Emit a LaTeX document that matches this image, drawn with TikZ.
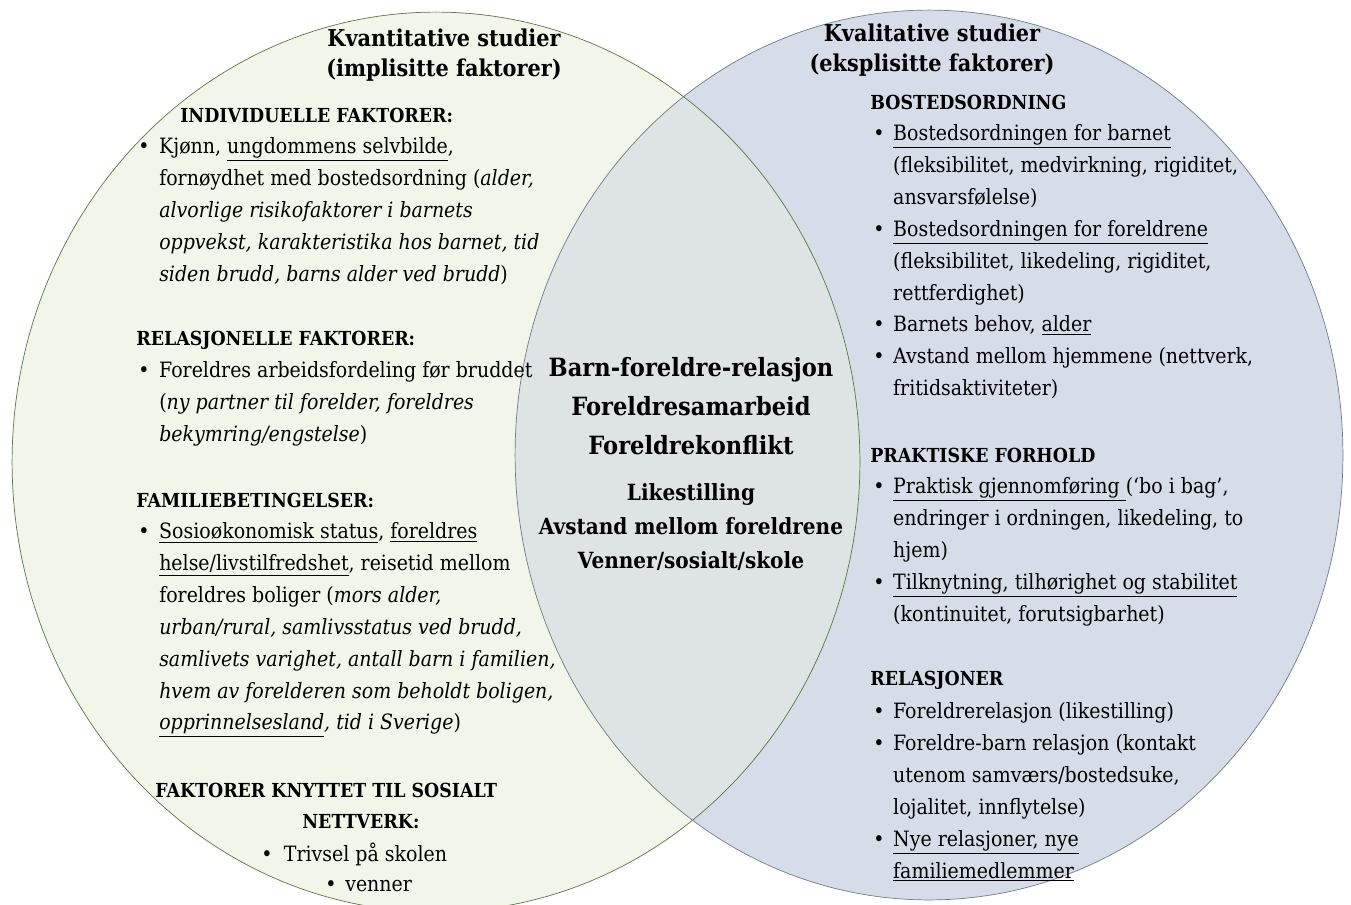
\documentclass[tikz,border=0pt]{standalone}
\usepackage{fontspec}
\setmainfont{DejaVu Serif Condensed}
\usetikzlibrary{positioning}
\definecolor{kvantfill}{RGB}{241,245,234}
\definecolor{kvantline}{RGB}{90,120,68}
\definecolor{kvalfill}{RGB}{214,220,232}
\definecolor{kvalline}{RGB}{112,124,142}
\definecolor{lensfill}{RGB}{222,228,228}
\tikzset{%
 body/.style={inner sep=0, font=\fontsize{12}{18.14}\selectfont},
 head/.style={inner sep=0, font=\fontsize{11}{18.14}\selectfont\bfseries},
 title/.style={inner sep=0, align=center, font=\fontsize{13.2}{17}\selectfont\bfseries},
 core/.style={inner sep=0, align=center, font=\fontsize{14.3}{22.1}\selectfont\bfseries},
 shared/.style={inner sep=0, align=center, font=\fontsize{12.7}{19.3}\selectfont\bfseries}
}
\newcommand\bl{\textbullet}

\begin{document}
\begin{tikzpicture}[x=0.02cm, y=-0.02cm]
 \useasboundingbox (0,0) rectangle (1351,904);
 \clip (0,0) rectangle (1351,904);
 % the two circles and their overlap
 \fill [kvantfill] (436,462) ellipse [x radius=8.48cm, y radius=9cm];
 \fill [kvalfill] (929,455) ellipse [x radius=8.28cm, y radius=8.9cm];
 \begin{scope}
  \clip (436,462) ellipse [x radius=8.48cm, y radius=9cm];
  \fill [lensfill] (929,455) ellipse [x radius=8.28cm, y radius=8.9cm];
 \end{scope}
 \draw [kvantline, thin] (436,462) ellipse [x radius=8.48cm, y radius=9cm];
 \draw [kvalline, thin] (929,455) ellipse [x radius=8.28cm, y radius=8.9cm];

 % left: kvantitative
 \node [title] (kvant) at (444,55) {Kvantitative studier\\(implisitte faktorer)};
 \node [head, anchor=west] (indiv) at (180,115) {INDIVIDUELLE FAKTORER:};
 \node [body, anchor=north west] (indivlist) at (138,131) {
  \begin{tabular}{@{}p{11.9pt}@{}l@{}}
   \bl & Kjønn, \underline{ungdommens selvbilde}, \\
       & fornøydhet med bostedsordning (\textit{alder,} \\
       & \textit{alvorlige risikofaktorer i barnets} \\
       & \textit{oppvekst, karakteristika hos barnet, tid} \\
       & \textit{siden brudd, barns alder ved brudd}) \\
  \end{tabular}
 };
 \node [head, anchor=west] (relas) at (136,340) {RELASJONELLE FAKTORER:};
 \node [body, anchor=north west] (relaslist) at (138,355) {
  \begin{tabular}{@{}p{11.9pt}@{}l@{}}
   \bl & Foreldres arbeidsfordeling før bruddet \\
       & (\textit{ny partner til forelder, foreldres} \\
       & \textit{bekymring/engstelse}) \\
  \end{tabular}
 };
 \node [head, anchor=west] (famil) at (136,500) {FAMILIEBETINGELSER:};
 \node [body, anchor=north west] (famillist) at (138,516) {
  \begin{tabular}{@{}p{11.9pt}@{}l@{}}
   \bl & \underline{Sosioøkonomisk status}, \underline{foreldres} \\
       & \underline{helse/livstilfredshet}, reisetid mellom \\
       & foreldres boliger (\textit{mors alder,} \\
       & \textit{urban/rural, samlivsstatus ved brudd,} \\
       & \textit{samlivets varighet, antall barn i familien,} \\
       & \textit{hvem av forelderen som beholdt boligen,} \\
       & \textit{\underline{opprinnelsesland}, tid i Sverige}) \\
  \end{tabular}
 };
 \node [head, anchor=west] (nett) at (155,790) {FAKTORER KNYTTET TIL SOSIALT};
 \node [head, anchor=west] (nettverk) at (302,822) {NETTVERK:};
 \node [body, anchor=west] (trivsel) at (261,854) {\bl\hspace{6.5pt}Trivsel på skolen};
 \node [body, anchor=west] (venner) at (325,886) {\bl\hspace{5pt}venner};

 % middle: overlap
 \node [core] (felles) at (691,406) {Barn-foreldre-relasjon\\Foreldresamarbeid\\Foreldrekonflikt};
 \node [shared, below=16pt of felles] (andre) {Likestilling\\Avstand mellom foreldrene\\Venner/sosialt/skole};

 % right: kvalitative
 \node [title] (kval) at (932,50) {Kvalitative studier\\(eksplisitte faktorer)};
 \node [head, anchor=west] (bosted) at (870,102) {BOSTEDSORDNING};
 \node [body, anchor=north west] (bostedlist) at (873,118) {
  \begin{tabular}{@{}p{11.3pt}@{}l@{}}
   \bl & \underline{Bostedsordningen for barnet} \\
       & (fleksibilitet, medvirkning, rigiditet, \\
       & ansvarsfølelse) \\
   \bl & \underline{Bostedsordningen for foreldrene} \\
       & (fleksibilitet, likedeling, rigiditet, \\
       & rettferdighet) \\
   \bl & Barnets behov, \underline{alder} \\
   \bl & Avstand mellom hjemmene (nettverk, \\
       & fritidsaktiviteter) \\
  \end{tabular}
 };
 \node [head, anchor=west] (praktisk) at (870,455) {PRAKTISKE FORHOLD};
 \node [body, anchor=north west] (praktisklist) at (873,471) {
  \begin{tabular}{@{}p{11.3pt}@{}l@{}}
   \bl & \underline{Praktisk gjennomføring }(‘bo i bag’, \\
       & endringer i ordningen, likedeling, to \\
       & hjem) \\
   \bl & \underline{Tilknytning, tilhørighet og stabilitet} \\
       & (kontinuitet, forutsigbarhet) \\
  \end{tabular}
 };
 \node [head, anchor=west] (relasj) at (870,680) {RELASJONER};
 \node [body, anchor=north west] (relasjlist) at (873,696) {
  \begin{tabular}{@{}p{11.3pt}@{}l@{}}
   \bl & Foreldrerelasjon (likestilling) \\
   \bl & Foreldre-barn relasjon (kontakt \\
       & utenom samværs/bostedsuke, \\
       & lojalitet, innflytelse) \\
   \bl & \underline{Nye relasjoner, nye} \\
       & \underline{familiemedlemmer} \\
  \end{tabular}
 };
\end{tikzpicture}
\end{document}
